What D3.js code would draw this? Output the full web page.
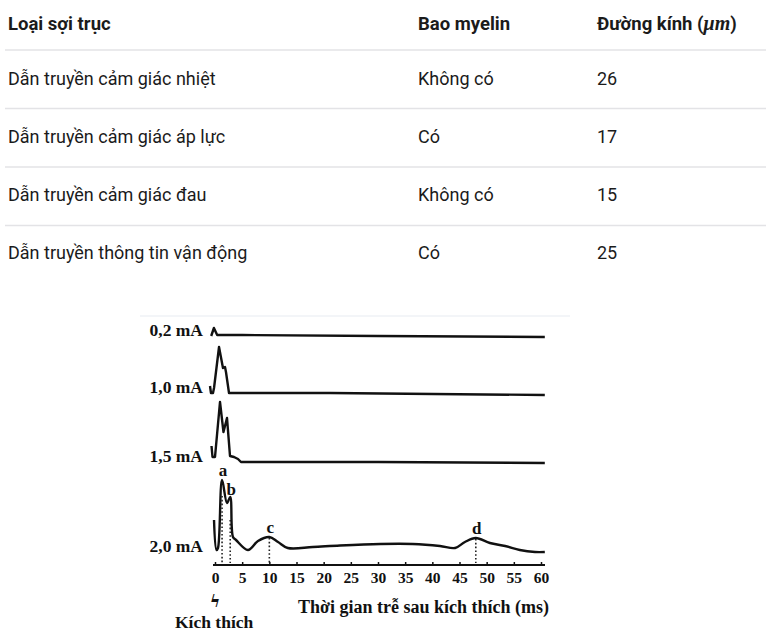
<!DOCTYPE html>
<html><head><meta charset="utf-8">
<script src="https://cdn.jsdelivr.net/npm/d3@7"></script>
<style>
html,body{margin:0;padding:0;background:#fff;}
svg{display:block;}
</style></head>
<body>
<svg id="c" width="766" height="642"></svg>
<script>
// ---- table data ----
const tableHeaders = ["Loại sợi trục", "Bao myelin", "Đường kính (", "μm", ")"];
const fiberTypes = ["Dẫn truyền cảm giác nhiệt", "Dẫn truyền cảm giác áp lực", "Dẫn truyền cảm giác đau", "Dẫn truyền thông tin vận động"];
const myelin = ["Không có", "Có", "Không có", "Có"];
const diameters = [26, 17, 15, 25];

// ---- recording data: [time ms, relative amplitude] ----
const stimulusLabels = ["0,2 mA", "1,0 mA", "1,5 mA", "2,0 mA"];
const trace02 = [[-0.7,0],[-0.2,8],[0.4,1],[5,1],[30,0],[60.7,-1]];
const trace10 = [[-0.92,7],[-0.74,0],[-0.37,0],[-0.18,5],[0.74,46],[1.47,25],[1.84,26],[2.02,21],[2.58,0],[21.2,0],[60.7,-2]];
const trace15 = [[-0.64,16],[-0.46,5],[0,5],[0.92,60],[1.56,30],[2.21,44],[2.76,6],[3.5,5],[4.23,3],[4.78,0],[30,0],[60.7,-1]];
const trace20 = [[-0.18,32],[0.28,2],[0.55,4],[1.3,72],[2.21,49],[2.8,55],[3.31,15],[3.87,12],[6.07,2],[7.91,11],[10,15],[11.6,10],[13.4,4],[18,5],[23.0,6.5],[30.4,8],[36.4,8],[41.4,6],[44.2,4],[46.0,10],[48,14],[50.6,9],[53.4,6],[56.1,2],[58.9,0],[60.7,0]];
const traces = [trace02, trace10, trace15, trace20];
const peakNames = ["a", "b", "c", "d"];
const peakTimes = [1.3, 2.8, 10, 48];
const peakAmps = [60, 36, 15, 14];
const xTicks = [0,5,10,15,20,25,30,35,40,45,50,55,60];
const axisTitle = "Thời gian trễ sau kích thích (ms)";
const stimText = "Kích thích";

const svg = d3.select("#c");

// ---- table ----
const tableFont = "Roboto, 'Noto Sans', sans-serif";
const colX = [8, 418, 597];
const headerY = 24;
const rowY = d3.scalePoint().domain(d3.range(4)).range([79, 253]);
const tbl = svg.append("g").attr("font-family", tableFont).attr("font-size", 18).attr("fill", "#1b1b1b");

tbl.append("text").attr("x", colX[0]).attr("y", headerY).attr("dy", "0.35em").attr("font-weight", "bold").attr("font-size", 18.5).text(tableHeaders[0]);
tbl.append("text").attr("x", colX[1]).attr("y", headerY).attr("dy", "0.35em").attr("font-weight", "bold").attr("font-size", 18.5).text(tableHeaders[1]);
const h3 = tbl.append("text").attr("x", colX[2]).attr("y", headerY).attr("dy", "0.35em").attr("font-weight", "bold").attr("font-size", 18.5);
h3.append("tspan").text(tableHeaders[2]);
h3.append("tspan").attr("font-family", "'Liberation Serif', 'DejaVu Serif', serif").attr("font-style", "italic").attr("font-size", 20).text(tableHeaders[3]);
h3.append("tspan").text(tableHeaders[4]);

fiberTypes.forEach((f, i) => {
  const y = rowY(i);
  tbl.append("text").attr("x", colX[0]).attr("y", y).attr("dy", "0.35em").text(f);
  tbl.append("text").attr("x", colX[1]).attr("y", y).attr("dy", "0.35em").text(myelin[i]);
  tbl.append("text").attr("x", colX[2]).attr("y", y).attr("dy", "0.35em").text(diameters[i]);
});
const sepY = [50, 108.5, 167, 225.5];
sepY.forEach(y => tbl.append("line").attr("x1", 5).attr("x2", 766).attr("y1", y).attr("y2", y)
  .attr("stroke", "#e3e3e6").attr("stroke-width", 1.5));

// ---- chart ----
const serif = "'Liberation Serif', 'DejaVu Serif', serif";
const x = d3.scaleLinear().domain([0, 60]).range([215, 541]);
const amp = d3.scaleLinear().domain([0, 100]).range([0, -100]);
const baselines = [336, 393, 462, 552];
const axisY = 565;

const g = svg.append("g");

// faint scan edge
g.append("line").attr("x1", 140).attr("x2", 570).attr("y1", 316).attr("y2", 316)
  .attr("stroke", "#f3f5f8").attr("stroke-width", 2);

const lineSharp = d3.line().x(d => x(d[0])).y(d => amp(d[1]));

traces.forEach((tr, i) => {
  const tg = g.append("g").attr("transform", `translate(0,${baselines[i]})`);
  tg.append("path").datum(tr)
    .attr("d", i === 3 ? lineSharp.curve(d3.curveCatmullRom.alpha(0.5)) : lineSharp.curve(d3.curveLinear))
    .attr("fill", "none").attr("stroke", "#111").attr("stroke-width", 2.4)
    .attr("stroke-linejoin", "round");
  g.append("text").attr("x", 203).attr("y", baselines[i]).attr("text-anchor", "end")
    .attr("font-family", serif).attr("font-weight", "bold").attr("font-size", 17.5)
    .attr("fill", "#111").text(stimulusLabels[i]);
});

// dotted markers + letters on the 2.0 mA trace
const b20 = baselines[3];
peakNames.forEach((n, i) => {
  g.append("line").attr("x1", x(peakTimes[i])).attr("x2", x(peakTimes[i]))
    .attr("y1", b20 + amp(peakAmps[i]) + (i < 2 ? 4 : 1)).attr("y2", axisY - 2)
    .attr("stroke", "#222").attr("stroke-width", 1.6).attr("stroke-dasharray", "1.6,2.2");
});
const letterOffset = [12, 10, 12, 12];
const letterAmp = [72, 55, 15, 14];
peakNames.forEach((n, i) => {
  g.append("text").attr("x", x(peakTimes[i]) + 1).attr("y", b20 + amp(letterAmp[i]) - letterOffset[i] + 8)
    .attr("text-anchor", "middle").attr("font-family", serif).attr("font-weight", "bold")
    .attr("font-size", 17).attr("fill", "#111").text(n);
});

// x axis
const xAxis = d3.axisBottom(x).tickValues(xTicks).tickSizeInner(-3).tickSizeOuter(0).tickPadding(7);
const ax = g.append("g").attr("transform", `translate(0,${axisY})`).call(xAxis);
ax.select(".domain").remove();
ax.append("line").attr("x1", 213).attr("x2", 545).attr("stroke", "#111").attr("stroke-width", 2.2);
ax.selectAll(".tick line").attr("stroke", "#111").attr("stroke-width", 1.5);
ax.selectAll(".tick text").attr("font-family", serif).attr("font-weight", "bold")
  .attr("font-size", 15.5).attr("fill", "#111");

// axis title and stimulus mark
g.append("text").attr("x", 549).attr("y", 613).attr("text-anchor", "end")
  .attr("font-family", serif).attr("font-weight", "bold").attr("font-size", 18)
  .attr("fill", "#111").text(axisTitle);
g.append("text").attr("x", x(0)).attr("y", 607).attr("text-anchor", "middle")
  .attr("font-family", "'DejaVu Serif', serif").attr("font-weight", "bold").attr("font-size", 16)
  .attr("fill", "#111").text("ϟ");
g.append("text").attr("x", 175).attr("y", 628)
  .attr("font-family", serif).attr("font-weight", "bold").attr("font-size", 17.5)
  .attr("fill", "#111").text(stimText);
</script>
</body></html>
